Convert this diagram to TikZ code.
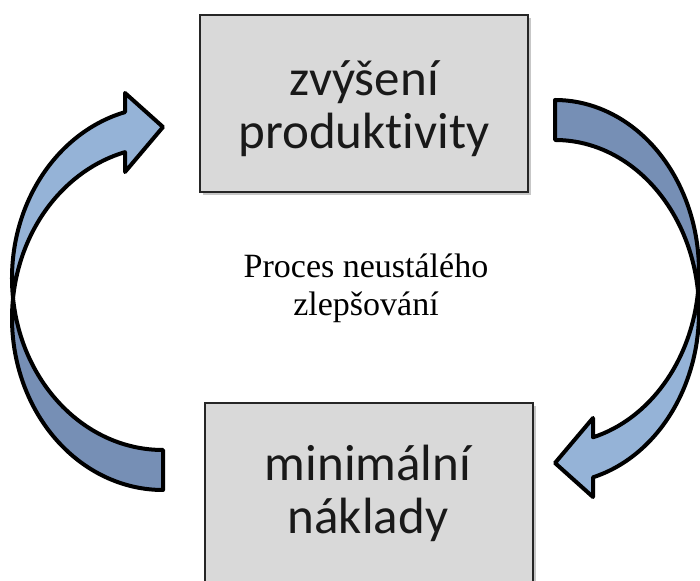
\documentclass[tikz,border=0pt]{standalone}
\usepackage{fontspec}
\setmainfont{Liberation Serif}
\newfontfamily\boxfont[Ligatures=NoCommon]{Carlito}
\usetikzlibrary{shadows}
\definecolor{frontblue}{RGB}{149,179,215}
\definecolor{backblue}{RGB}{118,143,181}
\definecolor{boxgray}{RGB}{217,217,217}
\tikzset{
  stepbox/.style={draw=black!85, line width=2.6pt, fill=boxgray,
    minimum width=328pt, minimum height=177pt, inner sep=0pt,
    drop shadow={shadow xshift=3pt, shadow yshift=-3pt, opacity=0.22, fill=black}},
  boxtext/.style={font=\boxfont\fontsize{51}{53}\selectfont, align=center, text=black!90},
  midtext/.style={font=\fontsize{34}{38}\selectfont, align=center},
  arrowline/.style={draw=black, line width=4pt, line join=round},
}
% Curved band arrow: two offset elliptic arcs that cross on the outer side;
% origin at the tail end, #1 is the horizontal radius.
\newcommand\bentarrow[1]{%
  \pgfmathsetmacro\ta{acos(-38/#1)}%
  \pgfmathsetmacro\tc{asin(20/171.7)}%
  \pgfmathsetmacro\xc{-#1*cos(\tc)}%
  \pgfmathsetmacro\yA{20+171.7*sin(\ta)}%
  % back (shaded) part of the band
  \draw[arrowline, fill=backblue] (\xc,0)
    arc[start angle=180-\tc, end angle=270, x radius=#1, y radius=171.7]
    -- (0,-151.7)
    arc[start angle=270, end angle=180+\tc, x radius=#1, y radius=171.7]
    -- cycle;
  % front part of the band with the head
  \draw[arrowline, fill=frontblue] (-38,\yA)
    arc[start angle=\ta, end angle=180+\tc, x radius=#1, y radius=171.7]
    arc[start angle=180-\tc, end angle=\ta, x radius=#1, y radius=171.7]
    -- (-38,126.3) -- (0,171.3) -- (-38,205.3) -- cycle;
}
\begin{document}
\begin{tikzpicture}[x=1pt,y=1pt]
\useasboundingbox (0,0) rectangle (700,580);
\clip (0,0) rectangle (700,580);

% boxes
\node[stepbox] (up) at (364,476.5) {};
\node[stepbox, minimum height=187pt] (down) at (369,83.5) {};
\node[boxtext] (uptext) at (364,471.5) {zvýšení\\produktivity};
\node[boxtext] (downtext) at (368,86.5) {minimální\\náklady};

% centre caption
\node[midtext] (mid) at (366,292) {Proces neustálého\\zlepšování};

% left arrow: from the lower box up to the upper box
\begin{scope}[shift={(163,281.7)}]
  \bentarrow{151}
\end{scope}
% right arrow: from the upper box down to the lower box
\begin{scope}[shift={(555,288.3)}, rotate=180]
  \bentarrow{144}
\end{scope}
\end{tikzpicture}
\end{document}
